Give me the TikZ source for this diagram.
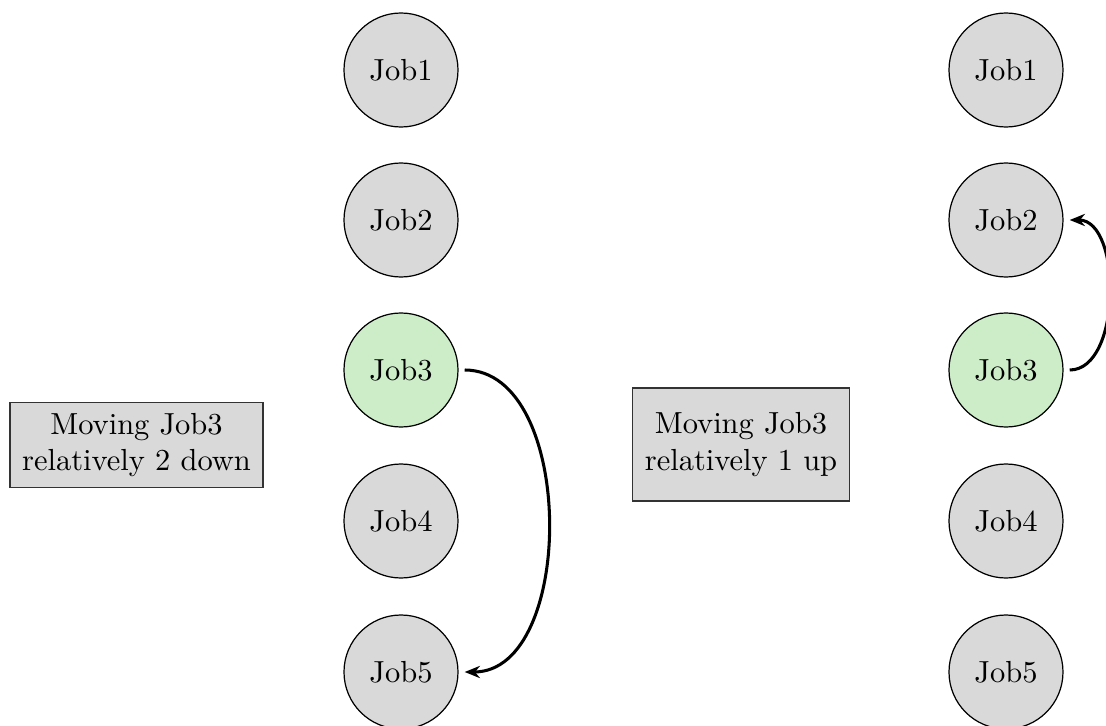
\documentclass[tikz,border=0pt]{standalone}
\usetikzlibrary{arrows.meta}
\definecolor{jobgray}{RGB}{217,217,217}
\definecolor{jobgreen}{RGB}{205,237,201}
\tikzset{
  job/.style={circle,draw=black,fill=jobgray,minimum size=114*0.328pt,inner sep=0pt},
  active/.style={job,fill=jobgreen},
  note/.style={draw=black!80,fill=jobgray,align=center,inner xsep=4pt},
  move/.style={-{Stealth[length=5pt,width=4pt]},line width=1pt,shorten <=2pt,shorten >=2pt}
}
\begin{document}
\begin{tikzpicture}[x=0.328pt,y=-0.328pt]
\useasboundingbox (0,0) rectangle (1106,726);
% left column
\node[job]    (a1) at (401,70)  {Job1};
\node[job]    (a2) at (401,220) {Job2};
\node[active] (a3) at (401,370) {Job3};
\node[job]    (a4) at (401,521) {Job4};
\node[job]    (a5) at (401,672) {Job5};
% right column
\node[job]    (b1) at (1006,70)  {Job1};
\node[job]    (b2) at (1006,220) {Job2};
\node[active] (b3) at (1006,370) {Job3};
\node[job]    (b4) at (1006,521) {Job4};
\node[job]    (b5) at (1006,672) {Job5};
% notes
\node[note] (n1) at (136.5,445) {Moving Job3\\relatively 2 down};
\node[note,minimum height=113*0.328pt] (n2) at (741,444.5) {Moving Job3\\relatively 1 up};
% arrows
\draw[move] (a3.east) to[out=0,in=0] (a5.east);
\draw[move] (b3.east) to[out=0,in=0] (b2.east);
\end{tikzpicture}
\end{document}
